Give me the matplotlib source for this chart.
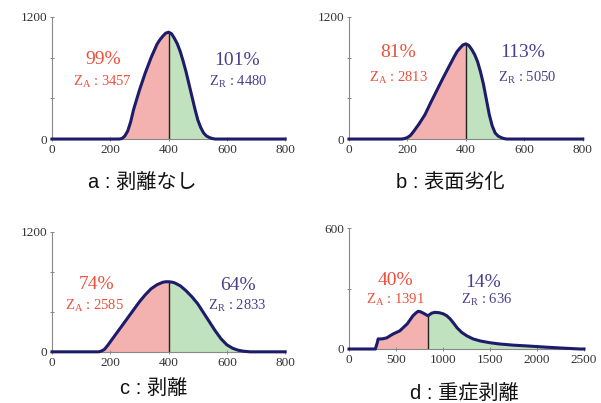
import matplotlib
matplotlib.use("Agg")
import matplotlib.pyplot as plt

plt.rcParams['mathtext.fontset'] = 'custom'
plt.rcParams['mathtext.rm'] = 'Liberation Serif'

# curve a: no peeling
a_x = [0, 100, 200, 230, 240, 250, 260, 270, 280, 300, 320, 340, 360, 370, 380, 390, 400, 410, 420, 430,
       440, 450, 460, 470, 480, 490, 500, 510, 520, 530, 540, 550, 560, 600, 700, 800]
a_y = [0, 0, 0, 0, 5, 30, 80, 170, 290, 480, 650, 800, 930, 975, 1010, 1040, 1050, 1035, 990, 935,
       860, 765, 660, 540, 420, 300, 190, 115, 60, 30, 15, 5, 0, 0, 0, 0]
# curve b: surface deterioration
b_x = [0, 100, 180, 190, 200, 210, 220, 240, 260, 280, 300, 320, 340, 360, 370, 380, 390, 400, 410, 420,
       430, 440, 450, 460, 470, 480, 490, 500, 510, 520, 530, 540, 600, 700, 800]
b_y = [0, 0, 0, 5, 15, 35, 70, 150, 240, 360, 475, 590, 700, 810, 860, 895, 925, 935, 920, 880,
       830, 760, 660, 540, 390, 240, 130, 60, 30, 15, 5, 0, 0, 0, 0]
# curve c: peeling
c_x = [0, 100, 160, 170, 180, 190, 200, 220, 240, 260, 280, 300, 320, 340, 360, 380, 390, 400, 410, 420,
       440, 460, 480, 500, 520, 540, 560, 580, 600, 620, 640, 660, 680, 700, 800]
c_y = [0, 0, 0, 8, 25, 60, 100, 180, 260, 340, 420, 500, 570, 630, 670, 695, 700, 700, 697, 690,
       660, 610, 550, 480, 390, 300, 210, 130, 70, 35, 15, 5, 0, 0, 0]
# curve d: severe peeling
d_x = [0, 280, 300, 310, 350, 400, 470, 540, 620, 680, 710, 735, 760, 790, 840, 880, 915, 960, 1000,
       1040, 1075, 1110, 1150, 1200, 1255, 1320, 1395, 1500, 1600, 1750, 1900, 2100, 2250, 2460, 2500]
d_y = [0, 0, 30, 50, 50, 55, 75, 90, 125, 165, 178, 187, 185, 178, 165, 178, 182, 180, 175,
       165, 150, 130, 105, 82, 65, 50, 40, 31, 25, 19, 15, 9, 5, 0, 0]

splits = [400, 400, 400, 840]
pct_a = ['99%', '81%', '74%', '40%']
pct_r = ['101%', '113%', '64%', '14%']
za = ['3457', '2813', '2585', '1391']
zr = ['4480', '5050', '2833', '636']
captions = ['a : 剥離なし', 'b : 表面劣化', 'c : 剥離', 'd : 重症剥離']
xmax = [800, 800, 800, 2500]
ymax = [1200, 1200, 1200, 600]
xticks = [[0, 200, 400, 600, 800]] * 3 + [[0, 500, 1000, 1500, 2000, 2500]]

curves = [(a_x, a_y), (b_x, b_y), (c_x, c_y), (d_x, d_y)]
rects = [[0.0865, 0.655, 0.388, 0.303],
         [0.5807, 0.655, 0.389, 0.303],
         [0.0865, 0.127, 0.388, 0.298],
         [0.5807, 0.134, 0.391, 0.300]]
# text anchor positions (data units): pct left, z left, pct right, z right
txt_pos = [[(175, 777), (171, 561), (635, 768), (640, 561)],
           [(168, 846), (168, 600), (595, 846), (608, 600)],
           [(154, 670), (147, 460), (638, 660), (635, 460)],
           [(489, 342), (489, 243), (1426, 332), (1468, 243)]]
cap_pos = [(142, 182), (450, 182), (154, 388), (464, 393)]

red = '#ec4f3c'
blue = '#4a3f8e'
line_c = '#1c1c6a'

fig = plt.figure(figsize=(6.01, 4.03), dpi=100)

for i, (xs, ys) in enumerate(curves):
    ax = fig.add_axes(rects[i])
    s = splits[i]
    k = xs.index(s)
    ax.fill_between(xs[:k + 1], ys[:k + 1], color='#f3b1b0', lw=0)
    ax.fill_between(xs[k:], ys[k:], color='#c1e2bf', lw=0)
    ax.plot([s, s], [0, ys[k]], color='#222222', lw=1.0)
    ax.plot(xs, ys, color=line_c, lw=2.2, clip_on=False, zorder=5, solid_joinstyle='round')
    ax.set_xlim(0, xmax[i])
    ax.set_ylim(0, ymax[i])
    for sp in ['top', 'right']:
        ax.spines[sp].set_visible(False)
    for sp in ['left', 'bottom']:
        ax.spines[sp].set_color('#888888')
        ax.spines[sp].set_linewidth(0.8)
    ax.set_xticks(xticks[i])
    if ymax[i] == 1200:
        ax.set_yticks([0, 400, 800, 1200])
        ax.set_yticklabels(['0', '', '', '1200'])
    else:
        ax.set_yticks([0, 300, 600])
        ax.set_yticklabels(['0', '', '600'])
    ax.tick_params(axis='both', direction='inout', length=3, width=0.7, color='#888888',
                   labelsize=9.5, pad=2)
    for lab in ax.get_xticklabels() + ax.get_yticklabels():
        lab.set_fontfamily('Liberation Serif')
        lab.set_color('#333333')

    p = txt_pos[i]
    ax.text(p[0][0], p[0][1], pct_a[i], color=red, fontsize=14, family='Liberation Serif',
            ha='center', va='center')
    ax.text(p[1][0], p[1][1], r'$\mathrm{Z}_{\mathrm{A}}$ : ' + za[i], color=red, fontsize=10.5,
            family='Liberation Serif', ha='center', va='center')
    ax.text(p[2][0], p[2][1], pct_r[i], color=blue, fontsize=14, family='Liberation Serif',
            ha='center', va='center')
    ax.text(p[3][0], p[3][1], r'$\mathrm{Z}_{\mathrm{R}}$ : ' + zr[i], color=blue, fontsize=10.5,
            family='Liberation Serif', ha='center', va='center')

    cx, cy = cap_pos[i]
    fig.text(cx / 601, 1 - cy / 403, captions[i], fontsize=14.5, color='#111111',
             family=['Liberation Sans', 'Noto Sans CJK JP'], ha='center', va='center')

fig.savefig('out.png', dpi=100)
